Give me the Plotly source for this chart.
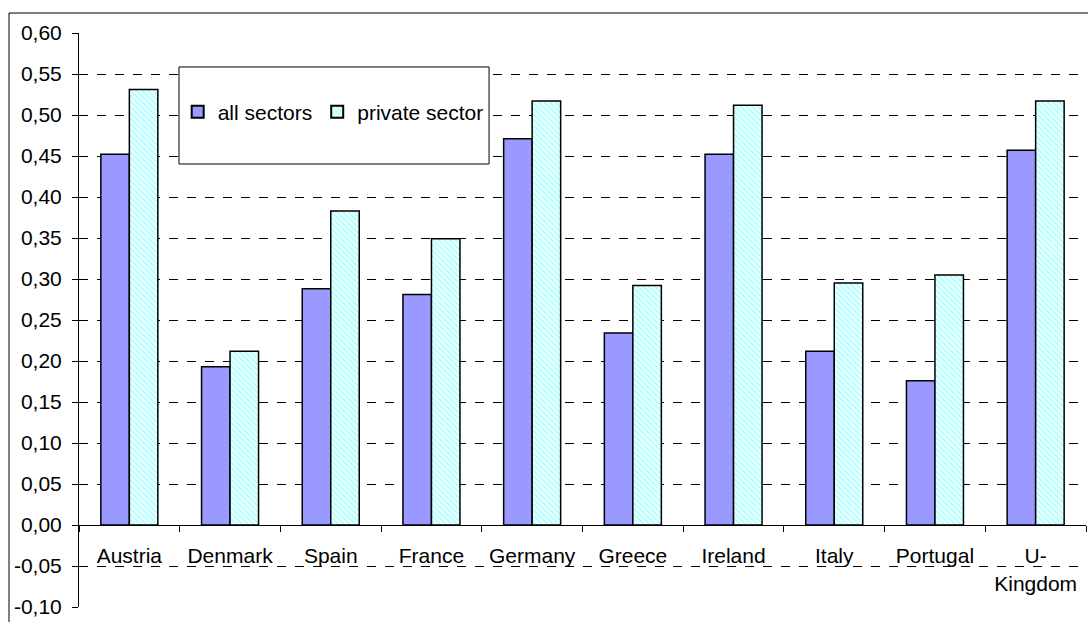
import plotly.graph_objects as go

countries = ["Austria", "Denmark", "Spain", "France", "Germany",
             "Greece", "Ireland", "Italy", "Portugal", "U-<br>Kingdom"]
all_sectors = [0.452, 0.193, 0.288, 0.281, 0.471, 0.234, 0.452, 0.212, 0.176, 0.457]
private_sector = [0.531, 0.212, 0.383, 0.349, 0.517, 0.292, 0.512, 0.295, 0.305, 0.517]

y_ticks = [-0.10, -0.05, 0.00, 0.05, 0.10, 0.15, 0.20, 0.25, 0.30,
           0.35, 0.40, 0.45, 0.50, 0.55, 0.60]
y_tick_text = ["-0,10", "-0,05", "0,00", "0,05", "0,10", "0,15", "0,20", "0,25",
               "0,30", "0,35", "0,40", "0,45", "0,50", "0,55", "0,60"]

FONT = "Liberation Sans, Arial, sans-serif"
FS = 21
Y_MIN, Y_MAX = -0.10, 0.60

fig = go.Figure()
fig.add_trace(go.Bar(
    name="all sectors", x=countries, y=all_sectors,
    marker=dict(color="#9999FF", line=dict(color="black", width=1.5)),
))
fig.add_trace(go.Bar(
    name="private sector", x=countries, y=private_sector,
    marker=dict(
        color="white",
        line=dict(color="black", width=1.5),
        pattern=dict(shape="\\", fgcolor="#B3FFFF", bgcolor="#F2FFFF",
                     size=4, solidity=0.5, fillmode="replace"),
    ),
))

zero_pos = (0 - Y_MIN) / (Y_MAX - Y_MIN)

fig.update_layout(
    width=1088, height=622,
    margin=dict(l=79, r=2, t=33, b=15),
    paper_bgcolor="white", plot_bgcolor="white",
    font=dict(family=FONT, size=FS, color="black"),
    barmode="group", bargap=0.434, bargroupgap=0,
    showlegend=True,
    legend=dict(
        orientation="h", x=0.098, y=0.862, xanchor="left", yanchor="middle",
        bgcolor="rgba(0,0,0,0)", borderwidth=0,
        font=dict(family=FONT, size=FS, color="black"),
        itemsizing="constant", traceorder="normal",
    ),
    xaxis=dict(
        anchor="free", position=zero_pos,
        showline=True, linecolor="black", linewidth=1,
        ticks="outside", tickson="boundaries", ticklen=6, tickcolor="black",
        ticklabelstandoff=12,
        showgrid=False, zeroline=False,
        tickfont=dict(family=FONT, size=FS, color="black"),
    ),
    yaxis=dict(
        range=[Y_MIN, Y_MAX],
        tickmode="array", tickvals=y_ticks, ticktext=y_tick_text,
        showline=True, linecolor="black", linewidth=1,
        ticks="outside", ticklen=6, tickcolor="black",
        ticklabelstandoff=6,
        showgrid=True, gridcolor="black", gridwidth=1, griddash="dash",
        zeroline=True, zerolinecolor="black", zerolinewidth=1,
        tickfont=dict(family=FONT, size=FS, color="black"),
    ),
    shapes=[
        # outer chart frame
        dict(type="rect", xref="paper", yref="paper",
             x0=-0.0695, x1=1.05, y0=-0.2, y1=1.0348,
             line=dict(color="black", width=1), fillcolor="rgba(0,0,0,0)",
             layer="above"),
        # legend box
        dict(type="rect", xref="paper", yref="paper",
             x0=0.0993, x1=0.4072, y0=0.7718, y1=0.9408,
             line=dict(color="black", width=1), fillcolor="white",
             layer="above"),
    ],
)

fig.write_html("out.html")
